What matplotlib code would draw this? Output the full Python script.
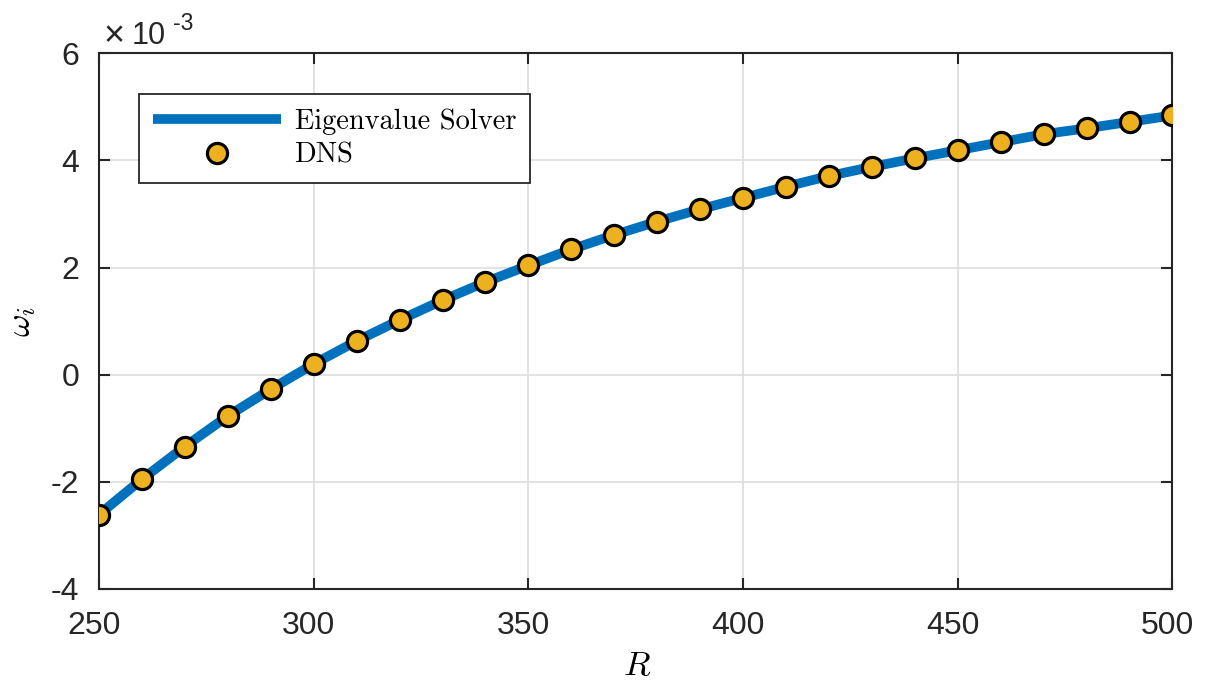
import matplotlib
matplotlib.use("Agg")
import matplotlib.pyplot as plt
import matplotlib.transforms as mtransforms
import numpy as np

# growth rate vs Reynolds number
R_vals = np.arange(250, 501, 10)
omega_i = [-2.61, -1.95, -1.34, -0.77, -0.27, 0.20, 0.63, 1.02, 1.39, 1.73,
           2.04, 2.34, 2.61, 2.86, 3.09, 3.30, 3.51, 3.71, 3.88, 4.04,
           4.19, 4.34, 4.49, 4.60, 4.72, 4.84]
omega_i = np.array(omega_i) * 1e-3

xticks = [250, 300, 350, 400, 450, 500]
yticks = [-4, -2, 0, 2, 4, 6]

blue = "#0072BD"
gold = "#EDB120"
dark = "#262626"

plt.rcParams["mathtext.fontset"] = "cm"
plt.rcParams["axes.unicode_minus"] = False
plt.rcParams["font.family"] = "Liberation Sans"

fig = plt.figure(figsize=(12.05, 6.86), dpi=100)
ax = fig.add_axes([0.0822, 0.1414, 0.973 - 0.0822, 0.9223 - 0.1414])

ax.plot(R_vals, omega_i, color=blue, lw=7, solid_capstyle="butt",
        label="Eigenvalue Solver", zorder=3)
ax.plot(R_vals, omega_i, ls="none", marker="o", ms=14.5, mfc=gold, mec="black",
        mew=2.3, label="DNS", zorder=4)

ax.set_xlim(250, 500)
ax.set_ylim(-4e-3, 6e-3)
ax.set_xticks(xticks)
ax.set_xticklabels([str(t) for t in xticks])
ax.set_yticks(np.array(yticks) * 1e-3)
ax.set_yticklabels([str(t) for t in yticks])

ax.grid(True, color="#dfdfdf", lw=1.3, zorder=0)
ax.set_axisbelow(True)
for s in ax.spines.values():
    s.set_color(dark)
    s.set_linewidth(1.5)
ax.tick_params(direction="in", length=8, width=1.5, colors=dark, labelsize=23,
               top=True, right=True)
ax.tick_params(axis="x", pad=16)
ax.tick_params(axis="y", pad=14)
shift = mtransforms.ScaledTranslation(-5 / 100, 0, fig.dpi_scale_trans)
for lab in ax.get_xticklabels():
    lab.set_transform(lab.get_transform() + shift)
for lab in ax.get_xticklabels() + ax.get_yticklabels():
    lab.set_color(dark)

ax.set_xlabel(r"$R$", fontsize=25)
ax.xaxis.set_label_coords(0.501, -0.112)
ax.set_ylabel(r"$\omega_i$", fontsize=25)
ax.yaxis.set_label_coords(-0.057, 0.5)

# exponent label above the y axis
fig.text(103 / 1205, 1 - 37 / 686, "\u00d7", fontsize=26, color=dark,
         ha="left", va="center", fontweight="light")
fig.text(132 / 1205, 1 - 44 / 686, "10", fontsize=22, color=dark,
         ha="left", va="baseline")
fig.text(173 / 1205, 1 - 30 / 686, "-3", fontsize=16.5, color=dark,
         ha="left", va="baseline")

leg = ax.legend(loc="upper left", bbox_to_anchor=(0.0373, 0.924), borderaxespad=0,
                prop={"family": "cmr10", "size": 20.5}, fancybox=False,
                edgecolor=dark, framealpha=1, handlelength=4.5,
                handletextpad=0.46, borderpad=0.5, labelspacing=0.27)
leg.get_frame().set_linewidth(1.3)

fig.savefig("out.png", dpi=100)
